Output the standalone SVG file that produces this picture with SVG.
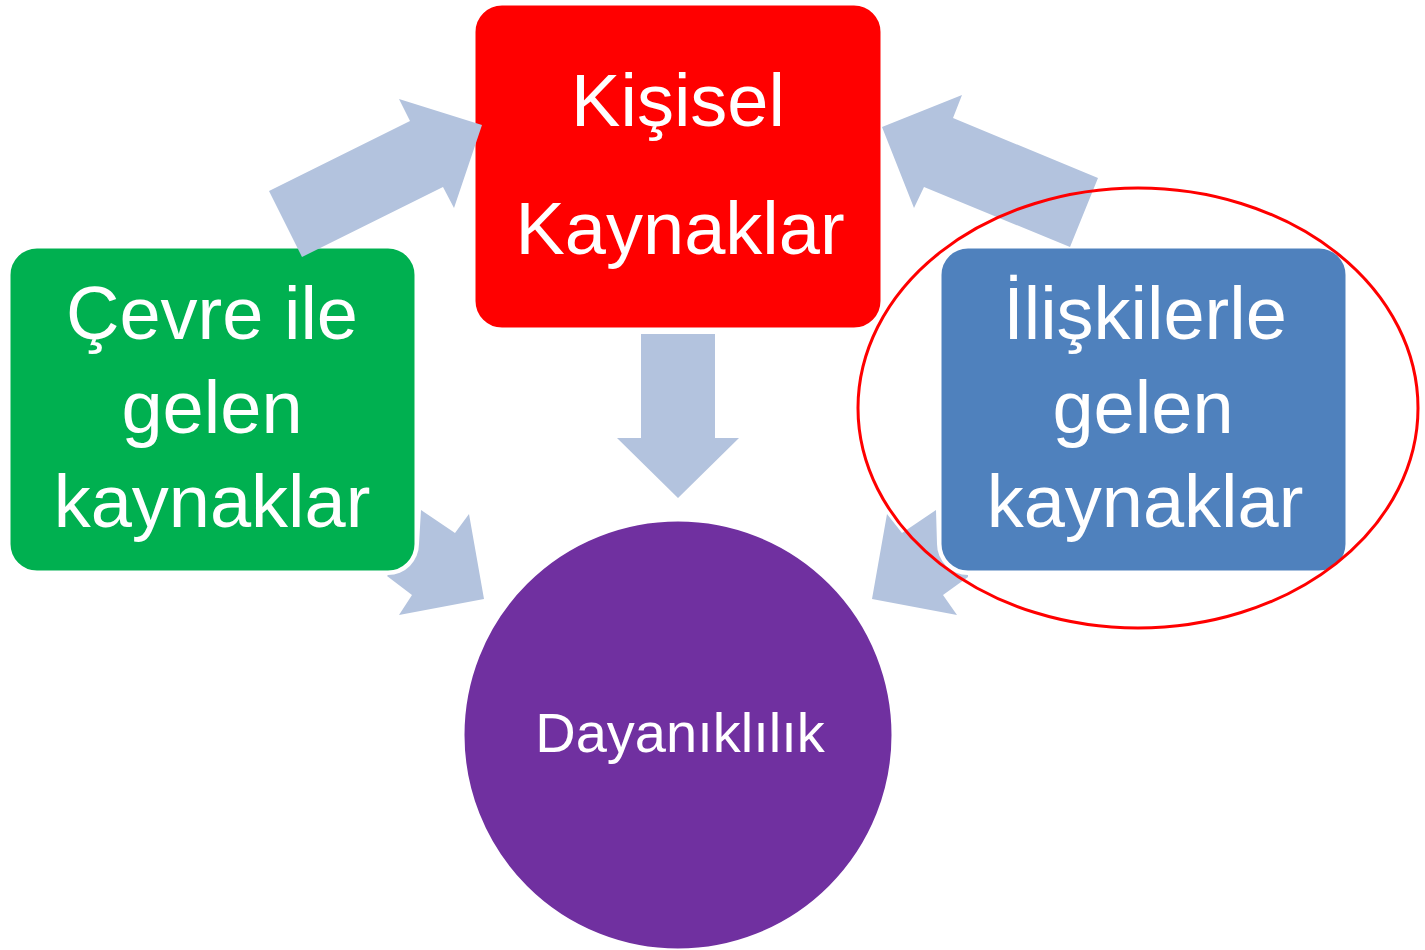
<svg xmlns="http://www.w3.org/2000/svg" width="1425" height="950" viewBox="0 0 1425 950">
<style>
.arrow{fill:#B3C3DE;stroke:none}
.box{stroke:#FFFFFF;stroke-width:3}
.t{font-family:"Liberation Sans",Arial,sans-serif;fill:#FFFFFF;text-anchor:middle}
.big{font-size:74px}
</style>
<rect width="1425" height="950" fill="#FFFFFF"/>
<g id="node-cevre">
<rect class="box" x="9" y="247" width="407" height="325" rx="28" ry="28" fill="#00B050"/>
<text class="t big" x="212" y="339">Çevre ile</text>
<text class="t big" x="212" y="433">gelen</text>
<text class="t big" x="212" y="527">kaynaklar</text>
</g>
<g id="node-kisisel">
<rect class="box" x="474" y="4" width="408" height="325" rx="28" ry="28" fill="#FF0000"/>
<text class="t big" x="678" y="126">Kişisel</text>
<text class="t big" x="680" y="254">Kaynaklar</text>
</g>
<g id="node-iliskiler">
<rect class="box" x="940" y="247" width="407" height="325" rx="28" ry="28" fill="#4F81BD"/>
<text class="t big" x="1145" y="339">İlişkilerle</text>
<text class="t big" x="1143" y="433">gelen</text>
<text class="t big" x="1145" y="527">kaynaklar</text>
</g>
<g id="node-dayaniklilik">
<circle cx="678" cy="735" r="215" fill="#7030A0" stroke="#FFFFFF" stroke-width="3"/>
<text class="t" x="680" y="752" font-size="56">Dayanıklılık</text>
</g>
<g id="connectors">
<polygon class="arrow" points="269,191 410,121 399,99 482,125 454,208 443,187 302,257"/>
<polygon class="arrow" points="882,127 962,95 953,118 1098,178 1070,247 924,187 914,208"/>
<polygon class="arrow" points="641,334 715,334 715,438 739,438 678,498 617,438 641,438"/>
<path class="arrow" d="M421,510 L455,533 L469,514 L484,599 L399,615 L412,595 L387,576 L388,575 A31,31 0 0 0 419,544 Z"/>
<path class="arrow" d="M936,510 L902,533 L887,514 L872,599 L957,615 L943,595 L968,577 L968,575 A31,31 0 0 1 937,544 Z"/>
</g>
<g id="highlight">
<ellipse cx="1138" cy="408" rx="280" ry="220" fill="none" stroke="#FF0000" stroke-width="3"/>
</g>
</svg>
